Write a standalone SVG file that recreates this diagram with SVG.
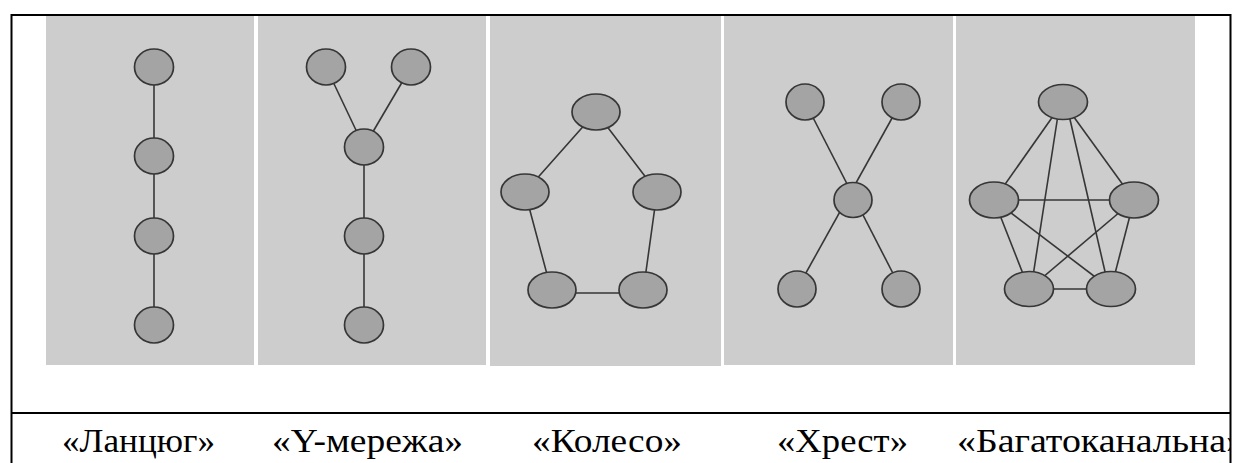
<svg xmlns="http://www.w3.org/2000/svg" width="1233" height="463" viewBox="0 0 1233 463">
<style>
.panel{fill:#cdcdcd}
.node{fill:#a4a4a4;stroke:#363636;stroke-width:1.7}
.edge{stroke:#363636;stroke-width:1.6;fill:none}
.frame{stroke:#000;stroke-width:2;fill:none}
</style>
<defs>
<clipPath id="clip"><rect x="0" y="0" width="1231" height="463"/></clipPath>
</defs>
<rect width="1233" height="463" fill="#fff"/>
<g id="panels">
<rect class="panel" x="46" y="16" width="208" height="349"/>
<rect class="panel" x="258" y="16" width="228" height="349"/>
<rect class="panel" x="490" y="16" width="231" height="350"/>
<rect class="panel" x="724" y="16" width="229" height="349"/>
<rect class="panel" x="956" y="16" width="239" height="349"/>
</g>
<g id="frame">
<line class="frame" x1="11" y1="15" x2="1231" y2="15"/>
<line class="frame" x1="11.5" y1="14" x2="11.5" y2="463"/>
<line class="frame" x1="1230.5" y1="14" x2="1230.5" y2="463"/>
<line class="frame" x1="11" y1="413" x2="1231" y2="413"/>
</g>
<g id="connectors">
<line class="edge" x1="154" y1="67" x2="154" y2="325"/>
<line class="edge" x1="326" y1="67" x2="364" y2="147"/>
<line class="edge" x1="411" y1="67" x2="364" y2="147"/>
<line class="edge" x1="364" y1="147" x2="364" y2="325"/>
<polyline class="edge" points="525,192 596,112 657,192 643,293 552,293 525,192"/>
<line class="edge" x1="805" y1="102" x2="901" y2="289"/>
<line class="edge" x1="901" y1="102" x2="797" y2="289"/>
<line class="edge" x1="1063" y1="102" x2="994" y2="200"/>
<line class="edge" x1="1063" y1="102" x2="1134" y2="200"/>
<line class="edge" x1="1060" y1="102" x2="1031" y2="289"/>
<line class="edge" x1="1066" y1="102" x2="1109" y2="289"/>
<line class="edge" x1="994" y1="200" x2="1134" y2="200"/>
<line class="edge" x1="994" y1="200" x2="1029" y2="289"/>
<line class="edge" x1="994" y1="200" x2="1111" y2="289"/>
<line class="edge" x1="1134" y1="200" x2="1029" y2="289"/>
<line class="edge" x1="1134" y1="200" x2="1111" y2="289"/>
<line class="edge" x1="1029" y1="289" x2="1111" y2="289"/>
</g>
<g id="chain">
<ellipse class="node" cx="154" cy="67" rx="19.5" ry="18"/>
<ellipse class="node" cx="154" cy="156" rx="19.5" ry="18"/>
<ellipse class="node" cx="154" cy="236" rx="19.5" ry="18"/>
<ellipse class="node" cx="154" cy="325" rx="19.5" ry="18"/>
</g>
<g id="y-network">
<ellipse class="node" cx="326" cy="67" rx="19.5" ry="18"/>
<ellipse class="node" cx="411" cy="67" rx="19.5" ry="18"/>
<ellipse class="node" cx="364" cy="147" rx="19.5" ry="18"/>
<ellipse class="node" cx="364" cy="236" rx="19.5" ry="18"/>
<ellipse class="node" cx="364" cy="325" rx="19.5" ry="18"/>
</g>
<g id="wheel">
<ellipse class="node" cx="596" cy="112" rx="24" ry="18"/>
<ellipse class="node" cx="525" cy="192" rx="24" ry="18"/>
<ellipse class="node" cx="657" cy="192" rx="24" ry="18"/>
<ellipse class="node" cx="552" cy="290" rx="24" ry="18"/>
<ellipse class="node" cx="643" cy="290" rx="24" ry="18"/>
</g>
<g id="cross">
<ellipse class="node" cx="805" cy="102" rx="19" ry="18"/>
<ellipse class="node" cx="901" cy="102" rx="19" ry="18"/>
<ellipse class="node" cx="853" cy="200" rx="19" ry="17.5"/>
<ellipse class="node" cx="797" cy="289" rx="19" ry="18"/>
<ellipse class="node" cx="901" cy="289" rx="19" ry="18"/>
</g>
<g id="multichannel">
<ellipse class="node" cx="1063" cy="102" rx="24.5" ry="17.5"/>
<ellipse class="node" cx="994" cy="200" rx="24.5" ry="18"/>
<ellipse class="node" cx="1134" cy="200" rx="24.5" ry="18"/>
<ellipse class="node" cx="1029" cy="289" rx="24.5" ry="17.5"/>
<ellipse class="node" cx="1111" cy="289" rx="24.5" ry="17.5"/>
</g>
<g id="labels" clip-path="url(#clip)" font-family="Liberation Serif, Times New Roman, serif" font-size="34" fill="#000">
<text x="62" y="452" textLength="153" lengthAdjust="spacingAndGlyphs">«Ланцюг»</text>
<text x="272" y="452" textLength="191" lengthAdjust="spacingAndGlyphs">«Y-мережа»</text>
<text x="532" y="452" textLength="150" lengthAdjust="spacingAndGlyphs">«Колесо»</text>
<text x="777" y="452" textLength="131" lengthAdjust="spacingAndGlyphs">«Хрест»</text>
<text x="957" y="452" textLength="288" lengthAdjust="spacingAndGlyphs">«Багатоканальна»</text>
</g>
</svg>
